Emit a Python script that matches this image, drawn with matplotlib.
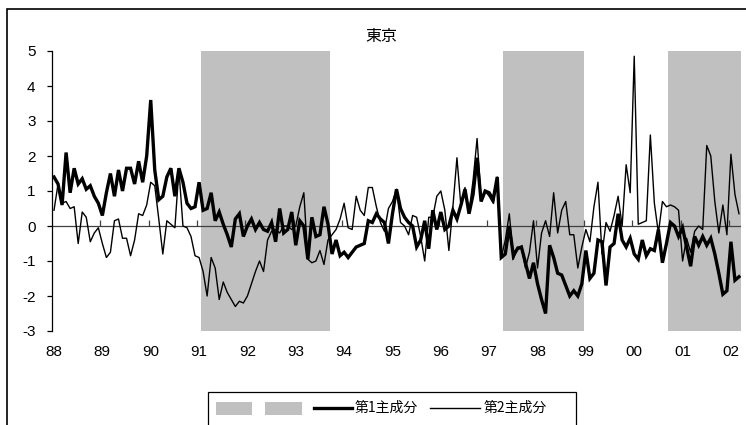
import numpy as np
import matplotlib
matplotlib.use('Agg')
import matplotlib.pyplot as plt
from matplotlib.patches import Rectangle
from matplotlib.lines import Line2D

# monthly principal component scores, Jan 1988 - Mar 2002
pc1 = [1.4, 1.2, 0.6, 2.1, 0.95, 1.65, 1.2, 1.35, 1.05, 1.15, 0.85, 0.65,
       0.3, 0.95, 1.5, 0.85, 1.6, 1.0, 1.65, 1.65, 1.2, 1.85, 1.25, 2.0,
       3.6, 1.6, 0.75, 0.85, 1.4, 1.65, 0.85, 1.65, 1.25, 0.65, 0.5, 0.55,
       1.25, 0.45, 0.5, 0.95, 0.15, 0.4, 0.05, -0.25, -0.6, 0.2, 0.35, -0.3,
       0.0, 0.2, -0.1, 0.1, -0.1, -0.15, 0.1, -0.45, 0.5, -0.2, -0.1, 0.4,
       -0.55, 0.15, 0.0, -0.95, 0.25, -0.3, -0.25, 0.55, 0.05, -0.8, -0.4, -0.85,
       -0.75, -0.9, -0.75, -0.6, -0.55, -0.5, 0.15, 0.1, 0.35, 0.2, 0.1, -0.5,
       0.35, 1.05, 0.5, 0.25, 0.1, 0.0, -0.6, -0.4, 0.15, -0.65, 0.45, -0.1,
       0.4, -0.1, 0.0, 0.45, 0.2, 0.6, 1.05, 0.35, 0.9, 1.95, 0.7, 1.0,
       0.95, 0.75, 1.4, -0.9, -0.8, 0.0, -0.85, -0.65, -0.6, -1.05, -1.5, -1.05,
       -1.65, -2.1, -2.5, -0.55, -0.9, -1.35, -1.4, -1.7, -2.0, -1.85, -2.0, -1.65,
       -0.7, -1.5, -1.35, -0.4, -0.45, -1.7, -0.6, -0.5, 0.35, -0.4, -0.6, -0.35,
       -0.8, -0.95, -0.4, -0.85, -0.65, -0.7, -0.1, -1.05, -0.5, 0.1, 0.0, -0.3,
       -0.05, -0.6, -1.15, -0.3, -0.55, -0.3, -0.55, -0.35, -0.8, -1.35, -1.95, -1.85,
       -0.45, -1.55, -1.45]
pc2 = [0.45, 1.2, 0.65, 0.7, 0.5, 0.55, -0.5, 0.4, 0.25, -0.45, -0.2, -0.05,
       -0.5, -0.9, -0.75, 0.15, 0.2, -0.35, -0.35, -0.85, -0.4, 0.35, 0.3, 0.6,
       1.25, 1.15, 0.2, -0.8, 0.15, 0.05, -0.05, 1.6, 0.0, -0.05, -0.3, -0.85,
       -0.9, -1.3, -2.0, -0.9, -1.2, -2.1, -1.6, -1.9, -2.1, -2.3, -2.15, -2.2,
       -2.0, -1.65, -1.3, -1.0, -1.3, -0.4, -0.15, -0.1, -0.2, 0.0, 0.0, -0.1,
       0.0, 0.55, 0.95, -0.95, -1.05, -1.0, -0.7, -1.1, -0.4, -0.25, -0.1, 0.2,
       0.65, -0.05, -0.1, 0.85, 0.45, 0.3, 1.1, 1.1, 0.55, 0.1, -0.15, 0.5,
       0.7, 1.05, 0.1, 0.0, -0.25, 0.3, 0.25, -0.3, -1.0, 0.25, 0.25, 0.85,
       1.0, 0.45, -0.7, 0.55, 1.95, 0.55, 1.1, 0.4, 1.3, 2.5, 0.75, 1.0,
       0.85, 0.65, 1.4, -0.9, -0.4, 0.35, -0.95, -0.6, -0.6, -1.2, -0.75, 0.15,
       -1.2, -0.2, 0.15, -0.3, 0.95, -0.2, 0.45, 0.7, -0.25, -0.25, -1.2, -0.6,
       -0.1, -0.45, 0.55, 1.25, -0.8, 0.1, -0.15, 0.3, 0.85, 0.0, 1.75, 0.95,
       4.85, 0.05, 0.1, 0.15, 2.6, 0.65, -0.2, 0.7, 0.55, 0.6, 0.55, 0.45,
       -1.0, -0.35, -0.75, -0.15, 0.0, -0.1, 2.3, 2.0, 0.7, -0.2, 0.6, -0.25,
       2.05, 0.9, 0.35]
year_labels = ['88', '89', '90', '91', '92', '93', '94', '95', '96', '97',
               '98', '99', '00', '01', '02']
# recession months (index into the monthly series)
rec_start = [37, 112, 153]
rec_end = [68, 131, 170]

W, H = 746, 425
fig = plt.figure(figsize=(W / 100, H / 100), dpi=100)

def fx(px):
    return px / W

def fy(py):
    return 1 - py / H

jp = ['Noto Sans CJK JP', 'DejaVu Sans']
num = ['Liberation Sans Narrow', 'Liberation Sans', 'DejaVu Sans']
plt.rcParams['axes.unicode_minus'] = False

ax = fig.add_axes([fx(52), fy(331), fx(741) - fx(52), fy(51) - fy(331)])
n = len(pc1)
m = np.arange(n)
for s, e in zip(rec_start, rec_end):
    ax.axvspan(s - 0.5, e + 0.5, color='#c0c0c0', lw=0, zorder=0)
ax.axhline(0, color='#404040', lw=0.9, zorder=1)
ax.vlines(np.arange(12, n, 12) - 0.5, 0, 0.17, color='#404040', lw=0.9, zorder=1)
ax.plot(m, pc1, color='black', lw=2.4, zorder=3, solid_joinstyle='miter')
ax.plot(m, pc2, color='black', lw=1.0, zorder=4)

ax.set_xlim(-0.5, n - 0.5)
ax.set_ylim(-3, 5)
for side in ['top', 'right', 'bottom']:
    ax.spines[side].set_visible(False)
ax.spines['left'].set_linewidth(0.9)
ax.set_yticks(range(-3, 6))
ax.set_yticklabels([str(v) for v in range(-3, 6)], family=num, fontsize=11)
ax.tick_params(axis='y', direction='out', length=3.3, width=0.9, pad=8.5)
ax.set_xticks(np.arange(0, n, 12))
ax.set_xticklabels(year_labels, family=num, fontsize=11)
ax.tick_params(axis='x', length=0, pad=10)

fig.text(fx(381), fy(36), '東京', ha='center', va='center', fontsize=11.5, family=jp)

# chart border (cropped on the right and bottom)
fig.add_artist(Rectangle((fx(7), fy(440)), fx(760) - fx(7), fy(9) - fy(440),
                         transform=fig.transFigure, fill=False, lw=1.2, ec='black'))

# legend box
fig.add_artist(Rectangle((fx(208), fy(440)), fx(576) - fx(208), fy(392) - fy(440),
                         transform=fig.transFigure, fill=False, lw=0.9, ec='black'))
for x0, x1 in [(216, 252), (265, 302)]:
    fig.add_artist(Rectangle((fx(x0), fy(415)), fx(x1) - fx(x0), fy(402) - fy(415),
                             transform=fig.transFigure, color='#c0c0c0', lw=0))
fig.add_artist(Line2D([fx(314), fx(352)], [fy(408), fy(408)], color='black', lw=2.4,
                      transform=fig.transFigure))
fig.text(fx(355), fy(408), '第1主成分', va='center', fontsize=10, family=jp)
fig.add_artist(Line2D([fx(430), fx(480)], [fy(408), fy(408)], color='black', lw=1.0,
                      transform=fig.transFigure))
fig.text(fx(484), fy(408), '第2主成分', va='center', fontsize=10, family=jp)

fig.savefig('out.png', dpi=100)
